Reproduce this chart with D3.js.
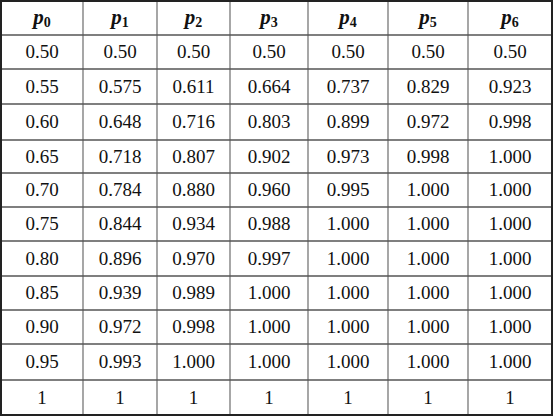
<!DOCTYPE html><html><head><meta charset="utf-8">
<script src="https://cdn.jsdelivr.net/npm/d3@7"></script>
<style>body{margin:0;background:#fff}</style></head><body>
<svg id="c" width="553" height="417"></svg>
<script>
const headers=["0","1","2","3","4","5","6"];
const p0=["0.50","0.55","0.60","0.65","0.70","0.75","0.80","0.85","0.90","0.95","1"];
const p1=["0.50","0.575","0.648","0.718","0.784","0.844","0.896","0.939","0.972","0.993","1"];
const p2=["0.50","0.611","0.716","0.807","0.880","0.934","0.970","0.989","0.998","1.000","1"];
const p3=["0.50","0.664","0.803","0.902","0.960","0.988","0.997","1.000","1.000","1.000","1"];
const p4=["0.50","0.737","0.899","0.973","0.995","1.000","1.000","1.000","1.000","1.000","1"];
const p5=["0.50","0.829","0.972","0.998","1.000","1.000","1.000","1.000","1.000","1.000","1"];
const p6=["0.50","0.923","0.998","1.000","1.000","1.000","1.000","1.000","1.000","1.000","1"];
const cols=[p0,p1,p2,p3,p4,p5,p6];
const colEdges=[1,83,157,230,308,388,468,552];
const rowEdges=[1,35,69,104,140,173,207,241,276,310,344,380,415];
const svg=d3.select("#c");
const g=svg.append("g");
g.selectAll(".v").data(colEdges.slice(1,-1)).enter().append("line")
 .attr("x1",d=>d).attr("x2",d=>d).attr("y1",rowEdges[0]).attr("y2",rowEdges[rowEdges.length-1])
 .attr("stroke","#777").attr("stroke-width",1.3);
g.selectAll(".h").data(rowEdges.slice(1,-1)).enter().append("line")
 .attr("y1",d=>d).attr("y2",d=>d).attr("x1",colEdges[0]).attr("x2",colEdges[7])
 .attr("stroke","#555").attr("stroke-width",1.3);
g.append("rect").attr("x",1).attr("y",1).attr("width",551).attr("height",414)
 .attr("fill","none").attr("stroke","#222").attr("stroke-width",2);
const font="Liberation Serif, Times New Roman, serif";
headers.forEach((h,i)=>{
 const t=g.append("text").attr("x",(colEdges[i]+colEdges[i+1])/2).attr("y",(rowEdges[0]+rowEdges[1])/2+6)
  .attr("text-anchor","middle").style("font-family",font).attr("font-size",21).attr("font-weight","bold").attr("fill","#111");
 t.append("tspan").attr("font-style","italic").text("p");
 t.append("tspan").attr("font-size",14).attr("dy",3).text(h);
});
cols.forEach((col,i)=>{
 col.forEach((v,r)=>{
  g.append("text").attr("x",(colEdges[i]+colEdges[i+1])/2).attr("y",(rowEdges[r+1]+rowEdges[r+2])/2+6)
   .attr("text-anchor","middle").style("font-family",font).attr("font-size",19).attr("fill","#111").text(v);
 });
});
</script></body></html>
